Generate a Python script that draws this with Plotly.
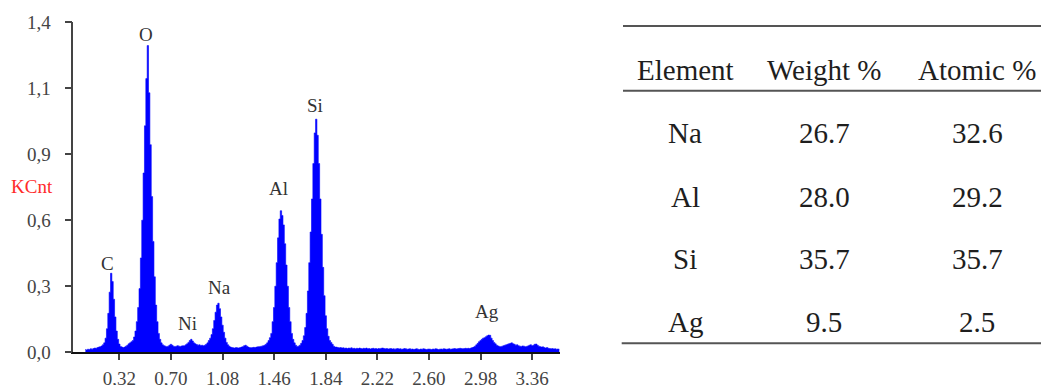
import plotly.graph_objects as go

# ---------------- data ----------------
channel_start_kev = 0.07
channel_step_kev = 0.01
counts_kcnt = [
    0.012, 0.010, 0.013,
    0.012, 0.015, 0.013, 0.016, 0.018, 0.017, 0.020, 0.022, 0.024, 0.027,
    0.032, 0.040, 0.060, 0.100, 0.165, 0.255, 0.335, 0.300, 0.225, 0.150,
    0.090, 0.055, 0.035, 0.025, 0.022, 0.020, 0.022, 0.026, 0.030, 0.036,
    0.040, 0.045, 0.050, 0.065, 0.090, 0.130, 0.190, 0.270, 0.400, 0.560,
    0.760, 0.960, 1.160, 1.300, 1.100, 0.880, 0.660, 0.470, 0.320, 0.200,
    0.130, 0.080, 0.055, 0.040, 0.032, 0.028, 0.026, 0.024, 0.026, 0.030,
    0.034, 0.030, 0.026, 0.024, 0.026, 0.028, 0.026, 0.025, 0.027, 0.028,
    0.028, 0.032, 0.036, 0.042, 0.050, 0.055, 0.048, 0.040, 0.036, 0.033,
    0.030, 0.032, 0.029, 0.030, 0.028, 0.030, 0.034, 0.040, 0.050, 0.060,
    0.075, 0.100, 0.135, 0.170, 0.200, 0.208, 0.185, 0.150, 0.115, 0.085,
    0.060, 0.042, 0.032, 0.026, 0.022, 0.020, 0.019, 0.018, 0.020, 0.019,
    0.018, 0.020, 0.022, 0.024, 0.028, 0.030, 0.026, 0.022, 0.020, 0.019,
    0.020, 0.021, 0.020, 0.022, 0.023, 0.024, 0.025, 0.026, 0.028, 0.030,
    0.034, 0.040, 0.050, 0.062, 0.080, 0.130, 0.190, 0.280, 0.380, 0.485,
    0.565, 0.600, 0.580, 0.540, 0.460, 0.370, 0.280, 0.190, 0.130, 0.080,
    0.055, 0.040, 0.030, 0.025, 0.026, 0.030, 0.038, 0.050, 0.070, 0.105,
    0.165, 0.260, 0.380, 0.510, 0.650, 0.800, 0.930, 0.988, 0.920, 0.800,
    0.650, 0.500, 0.360, 0.240, 0.155, 0.100, 0.068, 0.050, 0.042, 0.034,
    0.026, 0.022, 0.022, 0.020, 0.019, 0.020, 0.018, 0.019, 0.017, 0.018,
    0.016, 0.018, 0.017, 0.019, 0.016, 0.017, 0.015, 0.017, 0.016, 0.018,
    0.016, 0.015, 0.017, 0.016, 0.018, 0.015, 0.016, 0.014, 0.016, 0.017,
    0.015, 0.016, 0.014, 0.016, 0.015, 0.017, 0.018, 0.016, 0.015, 0.016,
    0.014, 0.015, 0.016, 0.014, 0.015, 0.013, 0.015, 0.016, 0.014, 0.015,
    0.013, 0.014, 0.016, 0.015, 0.013, 0.014, 0.015, 0.013, 0.014, 0.012,
    0.014, 0.015, 0.013, 0.012, 0.014, 0.013, 0.015, 0.014, 0.012, 0.013,
    0.014, 0.013, 0.012, 0.014, 0.013, 0.015, 0.014, 0.012, 0.013, 0.014,
    0.013, 0.015, 0.014, 0.013, 0.014, 0.015, 0.013, 0.014, 0.015, 0.016,
    0.014, 0.015, 0.016, 0.017, 0.016, 0.015, 0.016, 0.017, 0.016, 0.017,
    0.016, 0.018, 0.020, 0.022, 0.026, 0.032, 0.038, 0.045, 0.050, 0.055,
    0.060, 0.062, 0.066, 0.070, 0.073, 0.072, 0.060, 0.050, 0.042, 0.036,
    0.030, 0.027, 0.025, 0.024, 0.026, 0.028, 0.030, 0.032, 0.034, 0.036,
    0.038, 0.040, 0.036, 0.034, 0.030, 0.032, 0.028, 0.026, 0.025, 0.027,
    0.026, 0.024, 0.025, 0.027, 0.030, 0.032, 0.028, 0.030, 0.034, 0.035,
    0.030, 0.026, 0.024, 0.022, 0.023, 0.020, 0.018, 0.020, 0.017, 0.016,
    0.015, 0.016, 0.014, 0.015, 0.013, 0.014, 0.013,
]

peak_labels = ["C", "O", "Ni", "Na", "Al", "Si", "Ag"]
peak_label_x = [0.233, 0.519, 0.822, 1.060, 1.491, 1.761, 3.026]
peak_label_y = [0.378, 1.349, 0.120, 0.275, 0.695, 1.045, 0.171]

x_tick_vals = [0.32, 0.70, 1.08, 1.46, 1.84, 2.22, 2.60, 2.98, 3.36]
x_tick_text = ["0,32", "0,70", "1,08", "1,46", "1,84", "2,22", "2,60", "2,98", "3,36"]
y_tick_vals = [0.0, 0.28, 0.56, 0.84, 1.12, 1.4]
y_tick_text = ["0,0", "0,3", "0,6", "0,9", "1,1", "1,4"]

table_header = ["Element", "Weight %", "Atomic %"]
table_elements = ["Na", "Al", "Si", "Ag"]
table_weight = ["26.7", "28.0", "35.7", "9.5"]
table_atomic = ["32.6", "29.2", "35.7", "2.5"]

# ---------------- figure ----------------
W, H = 1041, 385
energies = [round(channel_start_kev + channel_step_kev * i, 2) for i in range(len(counts_kcnt))]

SERIF = "Liberation Serif, Times New Roman, serif"
fig = go.Figure()
fig.add_trace(go.Scatter(
    x=energies, y=counts_kcnt, mode="lines", line=dict(color="#0000FF", width=0.6, shape="hvh"),
    fill="tozeroy", fillcolor="#0000FF", hoverinfo="skip", showlegend=False,
))

def px_x(p):
    return p / W

def px_y(p):
    return 1 - p / H

annotations = []
for lab, lx, ly in zip(peak_labels, peak_label_x, peak_label_y):
    annotations.append(dict(x=lx, y=ly, xref="x", yref="y", text=lab, showarrow=False,
                            xanchor="center", yanchor="middle",
                            font=dict(family=SERIF, size=19, color="#333333")))

annotations.append(dict(x=px_x(32), y=px_y(186.5), xref="paper", yref="paper", text="KCnt",
                        showarrow=False, xanchor="center", yanchor="middle",
                        font=dict(family=SERIF, size=19, color="#FF2A2A")))

col_x = [685, 824, 977]
header_y = 70
row_y = [133, 196.7, 259, 321.7]
for cx, h in zip(col_x, table_header):
    annotations.append(dict(x=px_x(cx), y=px_y(header_y), xref="paper", yref="paper", text=h,
                            showarrow=False, xanchor="center", yanchor="middle",
                            font=dict(family=SERIF, size=29, color="#1E1E1E")))
for ry, e, w, a in zip(row_y, table_elements, table_weight, table_atomic):
    for cx, t in zip(col_x, [e, w, a]):
        annotations.append(dict(x=px_x(cx), y=px_y(ry), xref="paper", yref="paper", text=t,
                                showarrow=False, xanchor="center", yanchor="middle",
                                font=dict(family=SERIF, size=29, color="#1E1E1E")))

line_style = dict(color="#555555", width=2)
shapes = [
    dict(type="line", xref="paper", yref="paper", x0=px_x(623), x1=px_x(1041), y0=px_y(26), y1=px_y(26), line=line_style),
    dict(type="line", xref="paper", yref="paper", x0=px_x(623), x1=px_x(1041), y0=px_y(90.7), y1=px_y(90.7), line=line_style),
    dict(type="line", xref="paper", yref="paper", x0=px_x(621.7), x1=px_x(1041), y0=px_y(343.3), y1=px_y(343.3), line=line_style),
]

fig.update_layout(
    width=W, height=H,
    margin=dict(l=0, r=0, t=0, b=0, autoexpand=False),
    paper_bgcolor="white", plot_bgcolor="white",
    font=dict(family=SERIF, size=19, color="#444444"),
    annotations=annotations, shapes=shapes,
    xaxis=dict(
        domain=[px_x(73.3), px_x(560)], range=[-0.019, 3.565], automargin=False,
        tickmode="array", tickvals=x_tick_vals, ticktext=x_tick_text,
        showgrid=False, zeroline=False, showline=True, linecolor="#111111", linewidth=2,
        ticks="outside", ticklen=6, tickwidth=1.5, tickcolor="#444444",
        tickfont=dict(family=SERIF, size=19, color="#444444"), ticklabelstandoff=2,
        fixedrange=True,
    ),
    yaxis=dict(
        domain=[px_y(352.3), px_y(22)], range=[0, 1.4], automargin=False,
        tickmode="array", tickvals=y_tick_vals, ticktext=y_tick_text,
        showgrid=False, zeroline=False, showline=True, linecolor="#444444", linewidth=1.5,
        ticks="outside", ticklen=7, tickwidth=1.5, tickcolor="#444444",
        tickfont=dict(family=SERIF, size=19, color="#444444"), ticklabelstandoff=10,
        fixedrange=True,
    ),
)

fig.write_html(
    "out.html",
    config={"displayModeBar": False},
    post_script="document.body.style.margin='0';document.body.style.overflow='hidden';",
)
